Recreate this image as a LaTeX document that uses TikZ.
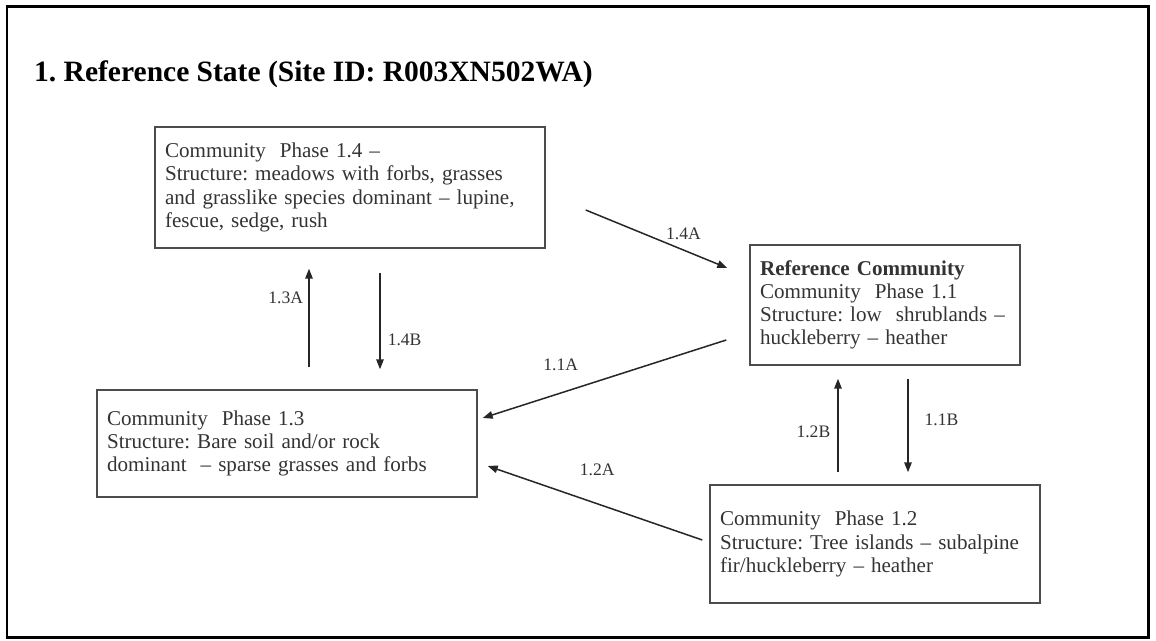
\documentclass[tikz,border=0pt]{standalone}
\usepackage{fontspec}
\setmainfont{Liberation Serif}
\usetikzlibrary{arrows.meta}
\frenchspacing

\tikzset{
  phase/.style={draw=black!70, line width=0.03cm, text=black!80, align=left,
    inner xsep=0.2cm, font=\fontsize{12}{13.2}\selectfont},
  trans/.style={draw=black!85, line width=0.03cm,
    -{Triangle[length=0.2cm,width=0.15cm]}},
  lbl/.style={font=\fontsize{10}{12}\selectfont, text=black!80, inner sep=1pt}
}

\begin{document}
\begin{tikzpicture}[x=0.02cm,y=-0.02cm]
	\useasboundingbox (0,0) rectangle (1156,641);

	% Draw the frame
	\draw [line width=0.06cm] (7,7) rectangle (1148,637);

	% Draw the title
	\node [anchor=west, font=\bfseries\fontsize{16.8}{20}\selectfont] (title) at (28,74)
		{1. Reference State (Site ID: R003XN502WA)};

	% Draw the community phases
	\node [phase, minimum width=7.8cm, minimum height=2.42cm, text width=7.4cm] (p14) at (350,187.5)
		{Community\ \ Phase 1.4 --\\Structure: meadows with forbs, grasses\\and grasslike species dominant -- lupine,\\fescue, sedge, rush};
	\node [phase, minimum width=5.4cm, minimum height=2.4cm, text width=5cm] (p11) at (885,305)
		{\textbf{Reference Community}\\Community\ \ Phase 1.1\\Structure: low\ \ shrublands --\\huckleberry -- heather};
	\node [phase, minimum width=7.6cm, minimum height=2.14cm, text width=7.2cm] (p13) at (287,443.5)
		{Community\ \ Phase 1.3\\Structure: Bare soil and/or rock\\dominant\ \ -- sparse grasses and forbs};
	\node [phase, minimum width=6.6cm, minimum height=2.36cm, text width=6.2cm] (p12) at (875,544)
		{Community\ \ Phase 1.2\\Structure: Tree islands -- subalpine\\fir/huckleberry -- heather};

	% Draw the transitions
	\draw [trans] ([shift={(40,22.5)}]p14.east) -- node [lbl, above right, pos=0.55] {1.4A} ([shift={(-22,-37)}]p11.west);
	\draw [trans] ([shift={(22,-22)}]p13.north) -- node [lbl, left=2pt, pos=0.7] {1.3A} ([shift={(-41,20)}]p14.south);
	\draw [trans] ([shift={(30,24)}]p14.south) -- node [lbl, right=3pt, pos=0.7] {1.4B} ([shift={(93,-20)}]p13.north);
	\draw [trans] ([shift={(-23,35)}]p11.west) -- node [lbl, above=0.4cm, pos=0.68] {1.1A} ([shift={(5,-25.5)}]p13.east);
	\draw [trans] ([shift={(-7,-4)}]p12.west) -- node [lbl, above=0.5cm, pos=0.49] {1.2A} ([shift={(10,22.5)}]p13.east);
	\draw [trans] ([shift={(-37,-12)}]p12.north) -- node [lbl, left=3pt, pos=0.43] {1.2B} ([shift={(-47,13)}]p11.south);
	\draw [trans] ([shift={(23,13)}]p11.south) -- node [lbl, right=8pt, pos=0.44] {1.1B} ([shift={(33,-12)}]p12.north);
\end{tikzpicture}
\end{document}
